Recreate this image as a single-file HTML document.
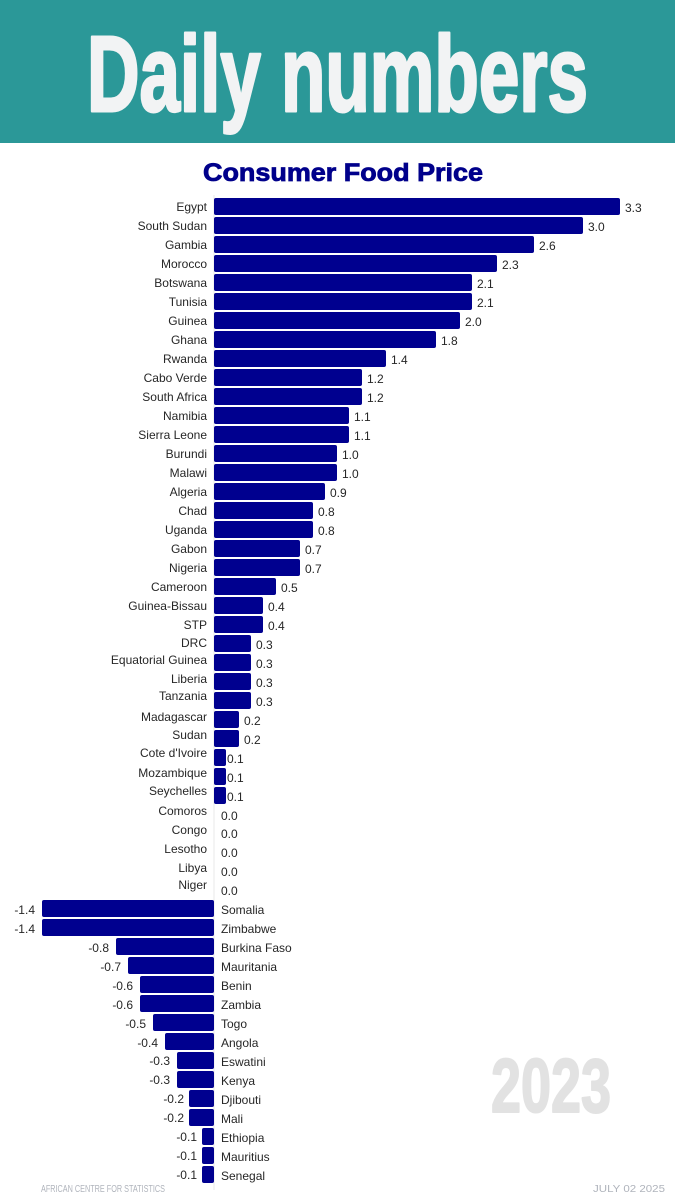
<!DOCTYPE html>
<html><head><meta charset="utf-8"><style>
html,body{margin:0;padding:0;background:#fff;}
svg{display:block;font-family:"Liberation Sans",sans-serif;}
.l{font-size:12px;fill:#262626;text-anchor:end;}
.r{font-size:12px;fill:#262626;}
.b{fill:#00008f;}
</style></head><body>
<svg width="675" height="1200" viewBox="0 0 675 1200">
<rect x="0" y="0" width="675" height="143" fill="#2b9898"/>
<text x="87" y="111" font-size="108" font-weight="bold" fill="#f2f3f4" stroke="#f2f3f4" stroke-width="3" stroke-linejoin="round" textLength="501" lengthAdjust="spacingAndGlyphs">Daily numbers</text>
<text x="203" y="181" font-size="25" font-weight="bold" fill="#00008b" stroke="#00008b" stroke-width="0.8" textLength="280" lengthAdjust="spacingAndGlyphs">Consumer Food Price</text>
<text x="491" y="1112" font-size="76" font-weight="bold" fill="#e2e2e2" stroke="#e2e2e2" stroke-width="2" stroke-linejoin="round" textLength="120" lengthAdjust="spacingAndGlyphs">2023</text>
<text x="41" y="1192" font-size="10" fill="#b0b4bc" textLength="124" lengthAdjust="spacingAndGlyphs">AFRICAN CENTRE FOR STATISTICS</text>
<text x="593" y="1192" font-size="10" fill="#b0b4bc" textLength="72" lengthAdjust="spacingAndGlyphs">JULY 02 2025</text>
<line x1="214" y1="195" x2="214" y2="1190" stroke="#e8e8e8" stroke-width="1"/>
<g>
<rect class="b" x="214" y="198" width="406" height="17" rx="2"/><text class="l" x="207" y="211">Egypt</text><text class="r" x="625" y="212">3.3</text>
<rect class="b" x="214" y="217" width="369" height="17" rx="2"/><text class="l" x="207" y="230">South Sudan</text><text class="r" x="588" y="231">3.0</text>
<rect class="b" x="214" y="236" width="320" height="17" rx="2"/><text class="l" x="207" y="249">Gambia</text><text class="r" x="539" y="250">2.6</text>
<rect class="b" x="214" y="255" width="283" height="17" rx="2"/><text class="l" x="207" y="268">Morocco</text><text class="r" x="502" y="269">2.3</text>
<rect class="b" x="214" y="274" width="258" height="17" rx="2"/><text class="l" x="207" y="287">Botswana</text><text class="r" x="477" y="288">2.1</text>
<rect class="b" x="214" y="293" width="258" height="17" rx="2"/><text class="l" x="207" y="306">Tunisia</text><text class="r" x="477" y="307">2.1</text>
<rect class="b" x="214" y="312" width="246" height="17" rx="2"/><text class="l" x="207" y="325">Guinea</text><text class="r" x="465" y="326">2.0</text>
<rect class="b" x="214" y="331" width="222" height="17" rx="2"/><text class="l" x="207" y="344">Ghana</text><text class="r" x="441" y="345">1.8</text>
<rect class="b" x="214" y="350" width="172" height="17" rx="2"/><text class="l" x="207" y="363">Rwanda</text><text class="r" x="391" y="364">1.4</text>
<rect class="b" x="214" y="369" width="148" height="17" rx="2"/><text class="l" x="207" y="382">Cabo Verde</text><text class="r" x="367" y="383">1.2</text>
<rect class="b" x="214" y="388" width="148" height="17" rx="2"/><text class="l" x="207" y="401">South Africa</text><text class="r" x="367" y="402">1.2</text>
<rect class="b" x="214" y="407" width="135" height="17" rx="2"/><text class="l" x="207" y="420">Namibia</text><text class="r" x="354" y="421">1.1</text>
<rect class="b" x="214" y="426" width="135" height="17" rx="2"/><text class="l" x="207" y="439">Sierra Leone</text><text class="r" x="354" y="440">1.1</text>
<rect class="b" x="214" y="445" width="123" height="17" rx="2"/><text class="l" x="207" y="458">Burundi</text><text class="r" x="342" y="459">1.0</text>
<rect class="b" x="214" y="464" width="123" height="17" rx="2"/><text class="l" x="207" y="477">Malawi</text><text class="r" x="342" y="478">1.0</text>
<rect class="b" x="214" y="483" width="111" height="17" rx="2"/><text class="l" x="207" y="496">Algeria</text><text class="r" x="330" y="497">0.9</text>
<rect class="b" x="214" y="502" width="99" height="17" rx="2"/><text class="l" x="207" y="515">Chad</text><text class="r" x="318" y="516">0.8</text>
<rect class="b" x="214" y="521" width="99" height="17" rx="2"/><text class="l" x="207" y="534">Uganda</text><text class="r" x="318" y="535">0.8</text>
<rect class="b" x="214" y="540" width="86" height="17" rx="2"/><text class="l" x="207" y="553">Gabon</text><text class="r" x="305" y="554">0.7</text>
<rect class="b" x="214" y="559" width="86" height="17" rx="2"/><text class="l" x="207" y="572">Nigeria</text><text class="r" x="305" y="573">0.7</text>
<rect class="b" x="214" y="578" width="62" height="17" rx="2"/><text class="l" x="207" y="591">Cameroon</text><text class="r" x="281" y="592">0.5</text>
<rect class="b" x="214" y="597" width="49" height="17" rx="2"/><text class="l" x="207" y="610">Guinea-Bissau</text><text class="r" x="268" y="611">0.4</text>
<rect class="b" x="214" y="616" width="49" height="17" rx="2"/><text class="l" x="207" y="629">STP</text><text class="r" x="268" y="630">0.4</text>
<rect class="b" x="214" y="635" width="37" height="17" rx="2"/><text class="l" x="207" y="647">DRC</text><text class="r" x="256" y="649">0.3</text>
<rect class="b" x="214" y="654" width="37" height="17" rx="2"/><text class="l" x="207" y="664">Equatorial Guinea</text><text class="r" x="256" y="668">0.3</text>
<rect class="b" x="214" y="673" width="37" height="17" rx="2"/><text class="l" x="207" y="683">Liberia</text><text class="r" x="256" y="687">0.3</text>
<rect class="b" x="214" y="692" width="37" height="17" rx="2"/><text class="l" x="207" y="700">Tanzania</text><text class="r" x="256" y="706">0.3</text>
<rect class="b" x="214" y="711" width="25" height="17" rx="2"/><text class="l" x="207" y="721">Madagascar</text><text class="r" x="244" y="725">0.2</text>
<rect class="b" x="214" y="730" width="25" height="17" rx="2"/><text class="l" x="207" y="739">Sudan</text><text class="r" x="244" y="744">0.2</text>
<rect class="b" x="214" y="749" width="12" height="17" rx="2"/><text class="l" x="207" y="757">Cote d'Ivoire</text><text class="r" x="227" y="763">0.1</text>
<rect class="b" x="214" y="768" width="12" height="17" rx="2"/><text class="l" x="207" y="777">Mozambique</text><text class="r" x="227" y="782">0.1</text>
<rect class="b" x="214" y="787" width="12" height="17" rx="2"/><text class="l" x="207" y="795">Seychelles</text><text class="r" x="227" y="801">0.1</text>
<text class="l" x="207" y="815">Comoros</text><text class="r" x="221" y="820">0.0</text>
<text class="l" x="207" y="834">Congo</text><text class="r" x="221" y="838">0.0</text>
<text class="l" x="207" y="853">Lesotho</text><text class="r" x="221" y="857">0.0</text>
<text class="l" x="207" y="872">Libya</text><text class="r" x="221" y="876">0.0</text>
<text class="l" x="207" y="889">Niger</text><text class="r" x="221" y="895">0.0</text>
<rect class="b" x="42" y="900" width="172" height="17" rx="2"/><text class="r" x="221" y="914">Somalia</text><text class="l" x="35" y="914">-1.4</text>
<rect class="b" x="42" y="919" width="172" height="17" rx="2"/><text class="r" x="221" y="933">Zimbabwe</text><text class="l" x="35" y="933">-1.4</text>
<rect class="b" x="116" y="938" width="98" height="17" rx="2"/><text class="r" x="221" y="952">Burkina Faso</text><text class="l" x="109" y="952">-0.8</text>
<rect class="b" x="128" y="957" width="86" height="17" rx="2"/><text class="r" x="221" y="971">Mauritania</text><text class="l" x="121" y="971">-0.7</text>
<rect class="b" x="140" y="976" width="74" height="17" rx="2"/><text class="r" x="221" y="990">Benin</text><text class="l" x="133" y="990">-0.6</text>
<rect class="b" x="140" y="995" width="74" height="17" rx="2"/><text class="r" x="221" y="1009">Zambia</text><text class="l" x="133" y="1009">-0.6</text>
<rect class="b" x="153" y="1014" width="61" height="17" rx="2"/><text class="r" x="221" y="1028">Togo</text><text class="l" x="146" y="1028">-0.5</text>
<rect class="b" x="165" y="1033" width="49" height="17" rx="2"/><text class="r" x="221" y="1047">Angola</text><text class="l" x="158" y="1047">-0.4</text>
<rect class="b" x="177" y="1052" width="37" height="17" rx="2"/><text class="r" x="221" y="1066">Eswatini</text><text class="l" x="170" y="1065">-0.3</text>
<rect class="b" x="177" y="1071" width="37" height="17" rx="2"/><text class="r" x="221" y="1085">Kenya</text><text class="l" x="170" y="1084">-0.3</text>
<rect class="b" x="189" y="1090" width="25" height="17" rx="2"/><text class="r" x="221" y="1104">Djibouti</text><text class="l" x="184" y="1103">-0.2</text>
<rect class="b" x="189" y="1109" width="25" height="17" rx="2"/><text class="r" x="221" y="1123">Mali</text><text class="l" x="184" y="1122">-0.2</text>
<rect class="b" x="202" y="1128" width="12" height="17" rx="2"/><text class="r" x="221" y="1142">Ethiopia</text><text class="l" x="197" y="1141">-0.1</text>
<rect class="b" x="202" y="1147" width="12" height="17" rx="2"/><text class="r" x="221" y="1161">Mauritius</text><text class="l" x="197" y="1160">-0.1</text>
<rect class="b" x="202" y="1166" width="12" height="17" rx="2"/><text class="r" x="221" y="1180">Senegal</text><text class="l" x="197" y="1179">-0.1</text>
</g>
</svg>
</body></html>
